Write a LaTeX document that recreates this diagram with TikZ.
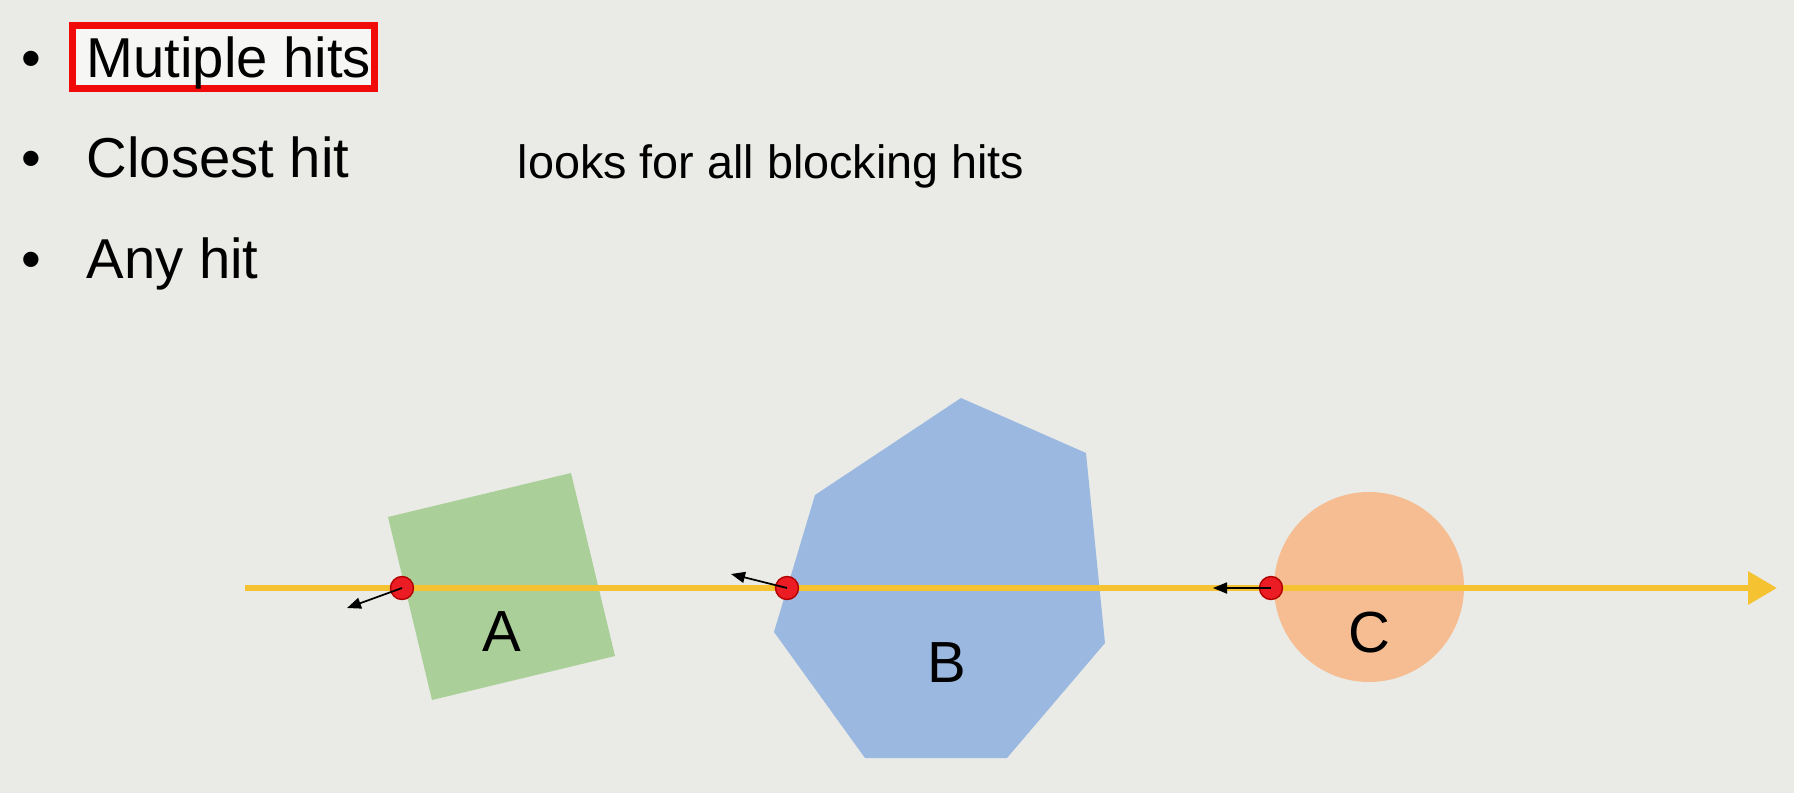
\documentclass[tikz,border=0pt]{standalone}
\usepackage{fontspec}
\setmainfont{Liberation Sans}
\usepackage{tikz}
\usetikzlibrary{arrows.meta, positioning}
\definecolor{slidebg}{HTML}{EAEBE6}
\definecolor{rayyellow}{HTML}{F5C332}
\definecolor{hitred}{HTML}{EC1C24}
\definecolor{markred}{HTML}{F00A0A}
\definecolor{boxgreen}{HTML}{ABCF98}
\definecolor{polyblue}{HTML}{9BB8E1}
\definecolor{ballpeach}{HTML}{F5BD91}

\begin{document}
\begin{tikzpicture}[x=0.1mm, y=-0.1mm,
  item/.style={anchor=base west, inner sep=0pt, font=\fontsize{16}{19}\selectfont},
  bul/.style={anchor=base, inner sep=0pt, font=\fontsize{16}{19}\selectfont},
  hit/.style={circle, fill=hitred, draw=red!70!black, line width=0.4pt,
              inner sep=0pt, minimum size=2.3mm},
  normal/.style={-{Triangle[length=1.4mm, width=1.1mm]}, black, line width=0.5pt},
  ray/.style={rayyellow, line width=0.65mm, -{Triangle[length=2.9mm, width=3.2mm]}},
  tag/.style={font=\fontsize{16.5}{20}\selectfont}]

% ---- slide background ---------------------------------------------------
\fill[slidebg] (0,0) rectangle (1794,793);
\useasboundingbox (0,0) rectangle (1794,793);

% ---- bullet list --------------------------------------------------------
\fill[white!55!slidebg] (69,22) rectangle (378,92);
\draw[markred, line width=0.7mm] (72.5,25.5) rectangle (374.5,88.5);
\node[item] (multi)   at (86,77)  {Mutiple hits};
\node[item] (closest) at (86,177) {Closest hit};
\node[item] (any)     at (86,278) {Any hit};
\foreach \n/\y in {b1/77, b2/177, b3/278}
  \node[bul] (\n) at (31,\y) {\textbullet};
\node[item, font=\fontsize{13.3}{16}\selectfont] (note) at (517,178)
  {looks for all blocking hits};

% ---- objects ------------------------------------------------------------
\fill[boxgreen] (388,517) -- (571,473) -- (615,656) -- (432,700) -- cycle;
\fill[polyblue] (961,398) -- (1086,453) -- (1105,643) -- (1007,758)
  -- (865,758) -- (774,632) -- (815,495) -- cycle;
\fill[ballpeach] (1369,587) circle (9.5mm);
\node[tag] (labA) at (502,632) {A};
\node[tag] (labB) at (947,663) {B};
\node[tag] (labC) at (1369,633) {C};

% ---- the ray and its hits ----------------------------------------------
\coordinate (rayS) at (245,588);
\coordinate (rayE) at (1777,588);
\draw[ray] (rayS) -- (rayE);
\node[hit] (hitA) at (402,588) {};
\node[hit] (hitB) at (787,588) {};
\node[hit] (hitC) at (1271,588) {};
\coordinate (nA) at (347,608);
\coordinate (nB) at (731,574);
\coordinate (nC) at (1213,588);
\draw[normal] (hitA.center) -- (nA);
\draw[normal] (hitB.center) -- (nB);
\draw[normal] (hitC.center) -- (nC);
\end{tikzpicture}
\end{document}
